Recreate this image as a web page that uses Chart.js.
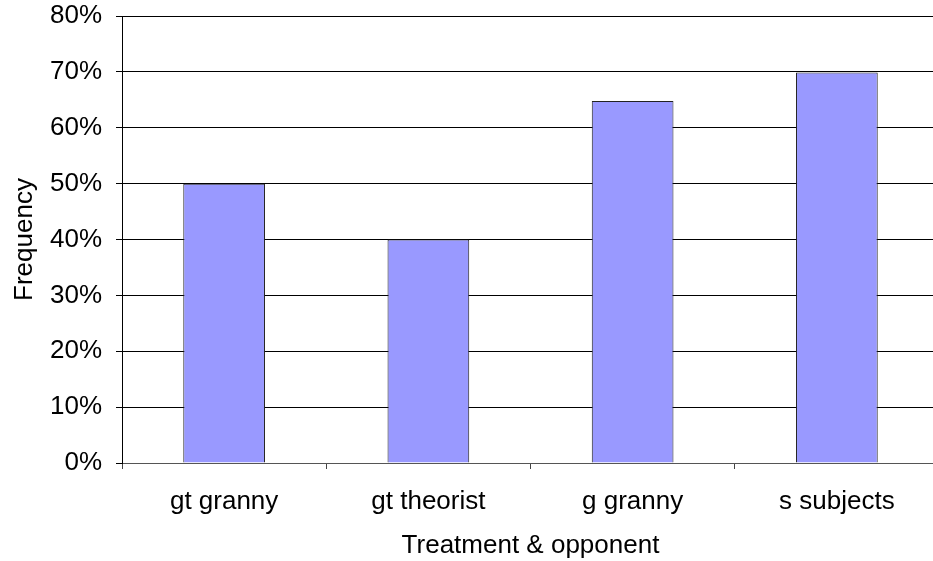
<!DOCTYPE html>
<html>
<head>
<meta charset="utf-8">
<script src="https://cdn.jsdelivr.net/npm/chart.js@4/dist/chart.umd.min.js"></script>
<style>
  html, body { margin: 0; padding: 0; background: #fff; overflow: hidden; }
  #wrap { width: 933px; height: 561px; overflow: hidden; }
</style>
</head>
<body>
<div id="wrap"><canvas id="chart" width="945" height="561"></canvas></div>
<script>
const categories = ["gt granny", "gt theorist", "g granny", "s subjects"];
const frequency = [0.5, 0.4, 0.648, 0.699];
const yTicks = [0, 0.1, 0.2, 0.3, 0.4, 0.5, 0.6, 0.7, 0.8];

const font = { family: "'Liberation Sans', Arial, sans-serif", size: 26 };

const chart = document.querySelector("#chart").getContext("2d");

new Chart(chart, {
  type: "bar",
  data: {
    labels: categories,
    datasets: [
      {
        label: "Frequency",
        data: frequency,
        backgroundColor: "#9999ff",
        borderColor: "#222",
        borderWidth: 1,
        barPercentage: 0.8,
        categoryPercentage: 0.5,
      },
    ],
  },
  options: {
    responsive: false,
    animation: false,
    layout: { padding: { top: 16, right: 6, left: 0, bottom: 0 } },
    plugins: { legend: { display: false }, tooltip: { enabled: false } },
    scales: {
      x: {
        grid: { offset: true, drawOnChartArea: false, color: "#444", tickLength: 6 },
        border: { color: "#555", width: 1 },
        ticks: { color: "#000", font: font, padding: 17 },
        title: { display: true, text: "Treatment & opponent", color: "#000", font: font, padding: { top: 0, bottom: 0 } },
        afterFit: (s) => { s.height = 98; },
      },
      y: {
        min: 0,
        max: 0.8,
        afterBuildTicks: (s) => { s.ticks = yTicks.map((v) => ({ value: v })); },
        grid: { color: "#000", tickLength: 6 },
        border: { color: "#000", width: 1 },
        ticks: {
          color: "#000",
          font: font,
          padding: 14,
          callback: (v) => Math.round(v * 100) + "%",
        },
        title: { display: true, text: "Frequency", color: "#000", font: font, padding: { top: 9, bottom: 4 } },
        afterFit: (s) => { s.width = 122; s.paddingTop = 0; s.paddingBottom = 0; },
      },
    },
  },
});
</script>
</body>
</html>
